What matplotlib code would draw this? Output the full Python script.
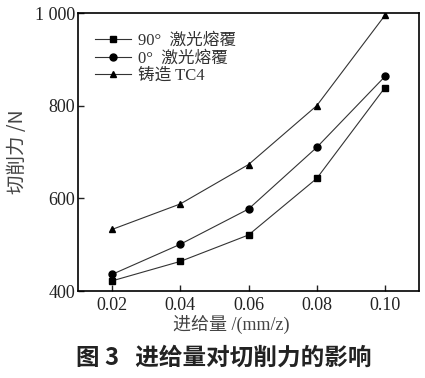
import matplotlib
matplotlib.use("Agg")
import matplotlib.pyplot as plt

feed = [0.02, 0.04, 0.06, 0.08, 0.10]
f_90 = [422, 464, 521, 643, 839]
f_0 = [436, 501, 577, 710, 863]
f_cast = [533, 588, 673, 800, 995]
labels = ['90°  激光熔覆', '0°  激光熔覆', '铸造 TC4']

serif = ['Liberation Serif', 'Noto Sans CJK SC']
cjk = ['Noto Sans CJK SC', 'DejaVu Sans']
plt.rcParams['font.family'] = serif

fig = plt.figure(figsize=(4.25, 3.78), dpi=100)
ax = fig.add_axes([0.1835, 0.230, 0.8025, 0.7356])

kw = dict(color='#333333', lw=0.8, markersize=5, markerfacecolor='black', markeredgecolor='black')
ax.plot(feed, f_90, marker='s', label=labels[0], **kw)
ax.plot(feed, f_0, marker='o', label=labels[1], **kw)
ax.plot(feed, f_cast, marker='^', label=labels[2], **kw)

ax.set_xlim(0.01, 0.11)
ax.set_ylim(400, 1000)
ax.set_xticks(feed)
ax.set_xticklabels(['0.02', '0.04', '0.06', '0.08', '0.10'])
ax.set_yticks([400, 600, 800, 1000])
ax.set_yticklabels(['400', '600', '800', '1 000'])
ax.tick_params(direction='in', length=4, width=1, labelsize=13, colors='#222222', pad=4)
ax.tick_params(axis='y', pad=2)
for s in ax.spines.values():
    s.set_linewidth(1.2)

ax.set_xlabel('进给量 /(mm/z)', fontsize=13, color='#444444', labelpad=2)
ax.xaxis.set_label_coords(0.45, -0.085)
ax.set_ylabel('切削力 /N', fontsize=14, color='#444444', family=cjk, labelpad=5)

leg = ax.legend(loc='upper left', bbox_to_anchor=(0.02, 0.965), frameon=False,
                prop={'family': serif, 'size': 12}, handlelength=2.2,
                labelspacing=0.1, borderaxespad=0.2, handletextpad=0.4)
for t in leg.get_texts():
    t.set_color('#333333')

fig.text(0.527, 0.055, '图 3   进给量对切削力的影响', ha='center', va='center',
         fontsize=17, fontweight='bold', family=cjk, color='#222222')

fig.savefig('out.png', dpi=100)
